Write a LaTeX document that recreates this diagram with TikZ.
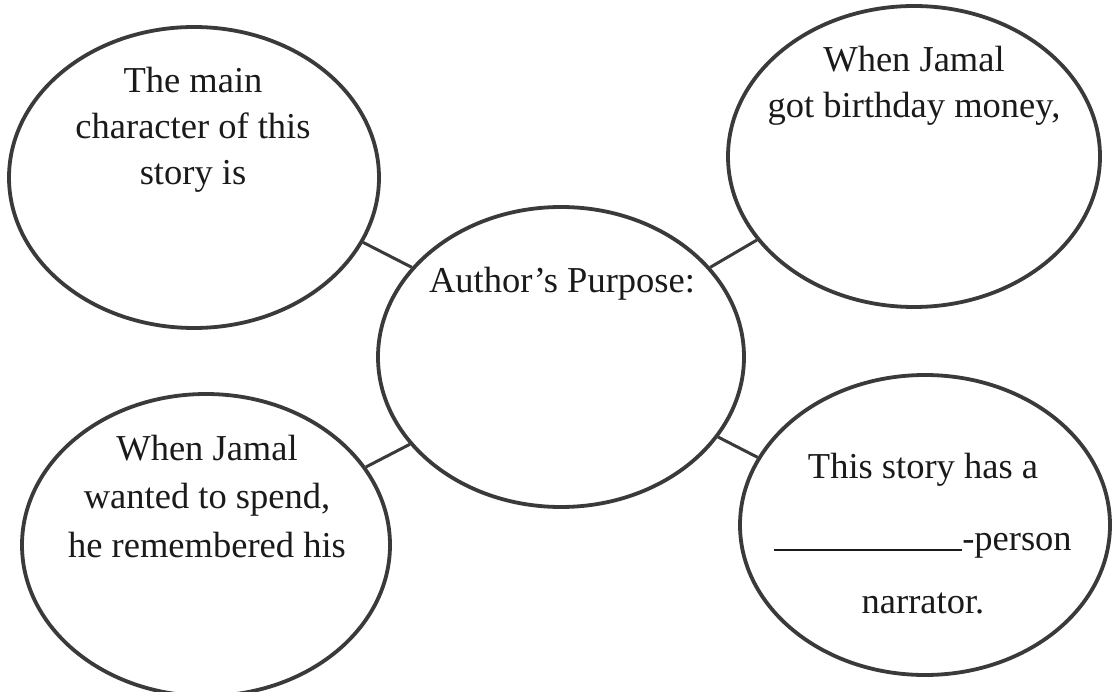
\documentclass[tikz,border=0pt]{standalone}
\usepackage{fontspec}
\setmainfont{Liberation Serif}
\usetikzlibrary{shapes.geometric}
\definecolor{linec}{HTML}{3A3A3A}
\definecolor{textc}{HTML}{1A1A1A}
\begin{document}
\begin{tikzpicture}[x=1pt,y=-1pt,
  bubble/.style={ellipse, draw=linec, line width=3.8pt, inner sep=0pt},
  conn/.style={draw=linec, line width=3pt},
  lbl/.style={anchor=base, align=center, text=textc, inner sep=0pt,
    font=\fontsize{36.5}{46}\selectfont}
]
\fill[white] (0,0) rectangle (1115,692);
\useasboundingbox (0,0) rectangle (1115,692);

\node[bubble, minimum width=370pt, minimum height=301pt] (tl) at (194,177.5) {};
\node[bubble, minimum width=372pt, minimum height=301pt] (tr) at (914,156.5) {};
\node[bubble, minimum width=366pt, minimum height=300pt] (c)  at (561,357) {};
\node[bubble, minimum width=368pt, minimum height=302pt] (bl) at (206,545) {};
\node[bubble, minimum width=370pt, minimum height=300pt] (br) at (925,525) {};

\draw[conn] (tl.-21.3) -- (c.149.4);
\draw[conn] (c.31.7) -- (tr.-152.9);
\draw[conn] (bl.26.3) -- (c.-150.5);
\draw[conn] (c.-27.1) -- (br.158.3);

% anchor=base sits on the last line's baseline
\node[lbl] (tlt) at (193,185) {The main\\character of this\\story is};
\node[lbl] (trt) at (914,118) {When Jamal\\got birthday money,};
\node[lbl] (ct) at (562,293) {Author's Purpose:};
\node[lbl, font=\fontsize{36.5}{48.5}\selectfont] (blt) at (207,557) {When Jamal\\wanted to spend,\\he remembered his};
\node[lbl] (brt) at (923,613) {This story has a\\[26pt]\rule[-1pt]{188pt}{1.6pt}-person\\[17pt]narrator.};
\end{tikzpicture}
\end{document}
